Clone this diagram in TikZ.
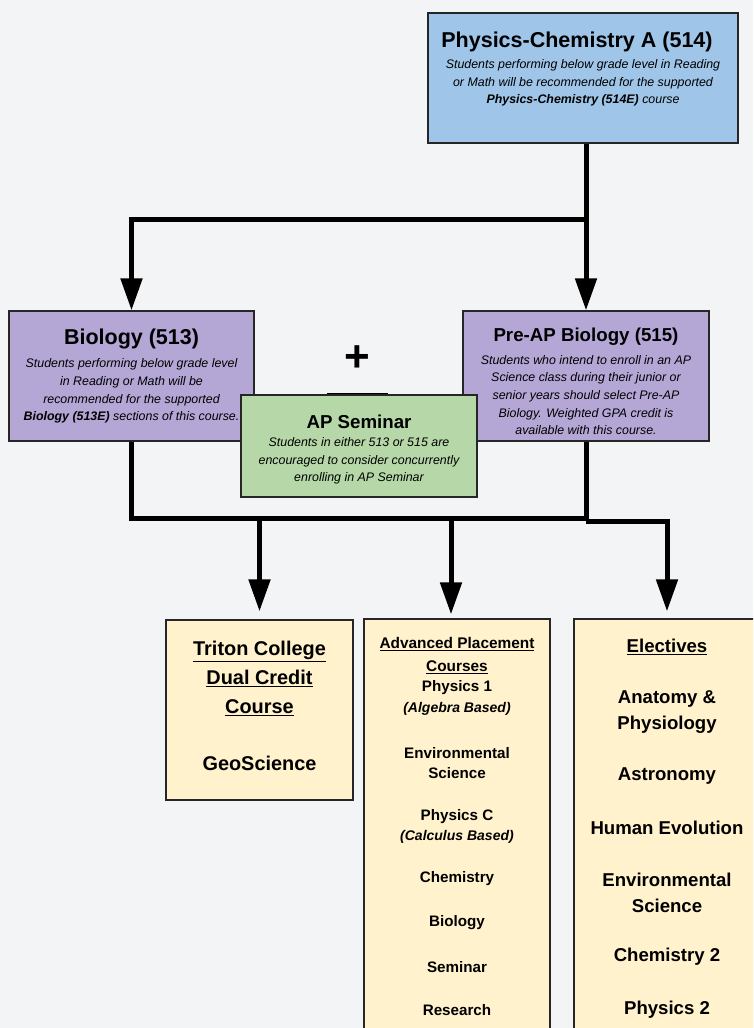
\documentclass[tikz,border=0pt]{standalone}
\usepackage{fontspec}
\setmainfont{Liberation Sans}
\usetikzlibrary{arrows.meta}

\definecolor{bgcol}{HTML}{F3F4F6}
\definecolor{bluebox}{HTML}{9FC5E8}
\definecolor{purplebox}{HTML}{B4A7D6}
\definecolor{greenbox}{HTML}{B6D7A8}
\definecolor{yellowbox}{HTML}{FFF2CC}

\begin{document}
\begin{tikzpicture}[x=1pt, y=-1pt,
  box/.style={draw=black!85, line width=1.3pt, inner sep=0pt},
  title/.style={font=\fontsize{21.5}{24}\selectfont\bfseries, inner sep=0pt},
  subtitle/.style={font=\fontsize{18.7}{22}\selectfont\bfseries, inner sep=0pt},
  note/.style={font=\fontsize{12.4}{17.7}\selectfont\itshape, align=center, inner sep=0pt},
  item/.style={font=\fontsize{18.6}{26}\selectfont\bfseries, align=center, inner sep=0pt},
  apitem/.style={font=\fontsize{15.2}{20}\selectfont\bfseries, align=center, inner sep=0pt},
  aphint/.style={font=\fontsize{14}{18}\selectfont\bfseries\itshape, inner sep=0pt},
  line/.style={line width=5pt},
  flow/.style={line width=5pt, -{Triangle[width=21pt,length=32pt]}}]

\useasboundingbox (0,0) rectangle (753,1028);
\fill[bgcol] (0,0) rectangle (753,1028);
\clip (0,0) rectangle (753,1028);

% first year
\node[box, fill=bluebox, minimum width=310pt, minimum height=130pt] (phys) at (583,78) {};
\node[title] (physT) at (577,42) {Physics-Chemistry A (514)};
\node[note] (physN) at (583,83) {Students performing below grade level in Reading\\or Math will be recommended for the supported\\\textbf{Physics-Chemistry (514E)} course};

% second year
\node[box, fill=purplebox, minimum width=245pt, minimum height=130pt] (bio) at (131.5,376) {};
\node[title] (bioT) at (131.5,339) {Biology (513)};
\node[note] (bioN) at (131.5,391) {Students performing below grade level\\in Reading or Math will be\\recommended for the supported\\\textbf{Biology (513E)} sections of this course.};

\node[box, fill=purplebox, minimum width=246pt, minimum height=130pt] (preap) at (586,376) {};
\node[subtitle] (preapT) at (586,337) {Pre-AP Biology (515)};
\node[note] (preapN) at (586,395) {Students who intend to enroll in an AP\\Science class during their junior or\\senior years should select Pre-AP\\Biology. Weighted GPA credit is\\available with this course.};

\node[font=\fontsize{44}{44}\selectfont\bfseries, inner sep=0pt] (plus) at (357,359) {+};
\draw[line width=1.5pt] (327,394) -- (388,394);

\node[box, fill=greenbox, minimum width=236pt, minimum height=102pt] (sem) at (359,446) {};
\node[subtitle] (semT) at (359,422) {AP Seminar};
\node[note] (semN) at (359,461) {Students in either 513 or 515 are\\encouraged to consider concurrently\\enrolling in AP Seminar};

% options
\node[box, fill=yellowbox, minimum width=187pt, minimum height=180pt] (triton) at (259.5,710) {};
\node[font=\fontsize{19.9}{29}\selectfont\bfseries, align=center, inner sep=0pt] (tritonT) at (259.5,678) {\underline{Triton College}\\\underline{Dual Credit}\\\underline{Course}};
\node[item, font=\fontsize{19.9}{29}\selectfont\bfseries] (geo) at (259.5,763) {GeoScience};

\node[box, fill=yellowbox, minimum width=186pt, minimum height=426pt] (ap) at (457,832) {};
\node[apitem, font=\fontsize{15.4}{20}\selectfont\bfseries] (ap1) at (457,644) {\underline{Advanced Placement}};
\node[apitem, font=\fontsize{15.4}{20}\selectfont\bfseries] (ap2) at (457,667) {\underline{Courses}};
\node[apitem] (ap3) at (457,688) {Physics 1};
\node[aphint] (ap4) at (457,709) {(Algebra Based)};
\node[apitem] (ap5) at (457,763) {Environmental\\Science};
\node[apitem] (ap6) at (457,817) {Physics C};
\node[aphint] (ap7) at (457,837) {(Calculus Based)};
\node[apitem] (ap8) at (457,879) {Chemistry};
\node[apitem] (ap9) at (457,923) {Biology};
\node[apitem] (ap10) at (457,967) {Seminar};
\node[apitem] (ap11) at (457,1010) {Research};

\node[box, fill=yellowbox, minimum width=206pt, minimum height=426pt] (elec) at (677,832) {};
\node[item] (el0) at (667,647) {\underline{Electives}};
\node[item] (el1) at (667,712) {Anatomy \&\\Physiology};
\node[item] (el2) at (667,776) {Astronomy};
\node[item] (el3) at (667,828) {Human Evolution};
\node[item] (el4) at (667,893) {Environmental\\Science};
\node[item] (el5) at (667,957) {Chemistry 2};
\node[item] (el6) at (667,1010) {Physics 2};

% connectors
\coordinate (split) at (586,219);
\coordinate (merge) at (586,518);
\coordinate (apin) at ([xshift=-6pt]ap.north);
\coordinate (elin) at ([xshift=-10pt]elec.north);

\draw[flow] (phys.south -| split) -- (split) -| (bio.north);
\draw[flow] (split) -- (preap.north);

\draw[line] (bio.south) |- (merge) -- (preap.south);
\draw[flow, shorten >=8pt] (triton.north |- merge) -- (triton.north);
\draw[flow, shorten >=4pt] (apin |- merge) -- (apin);
\draw[flow, shorten >=7pt] ([yshift=-3pt]merge) -| (elin);

\end{tikzpicture}
\end{document}
